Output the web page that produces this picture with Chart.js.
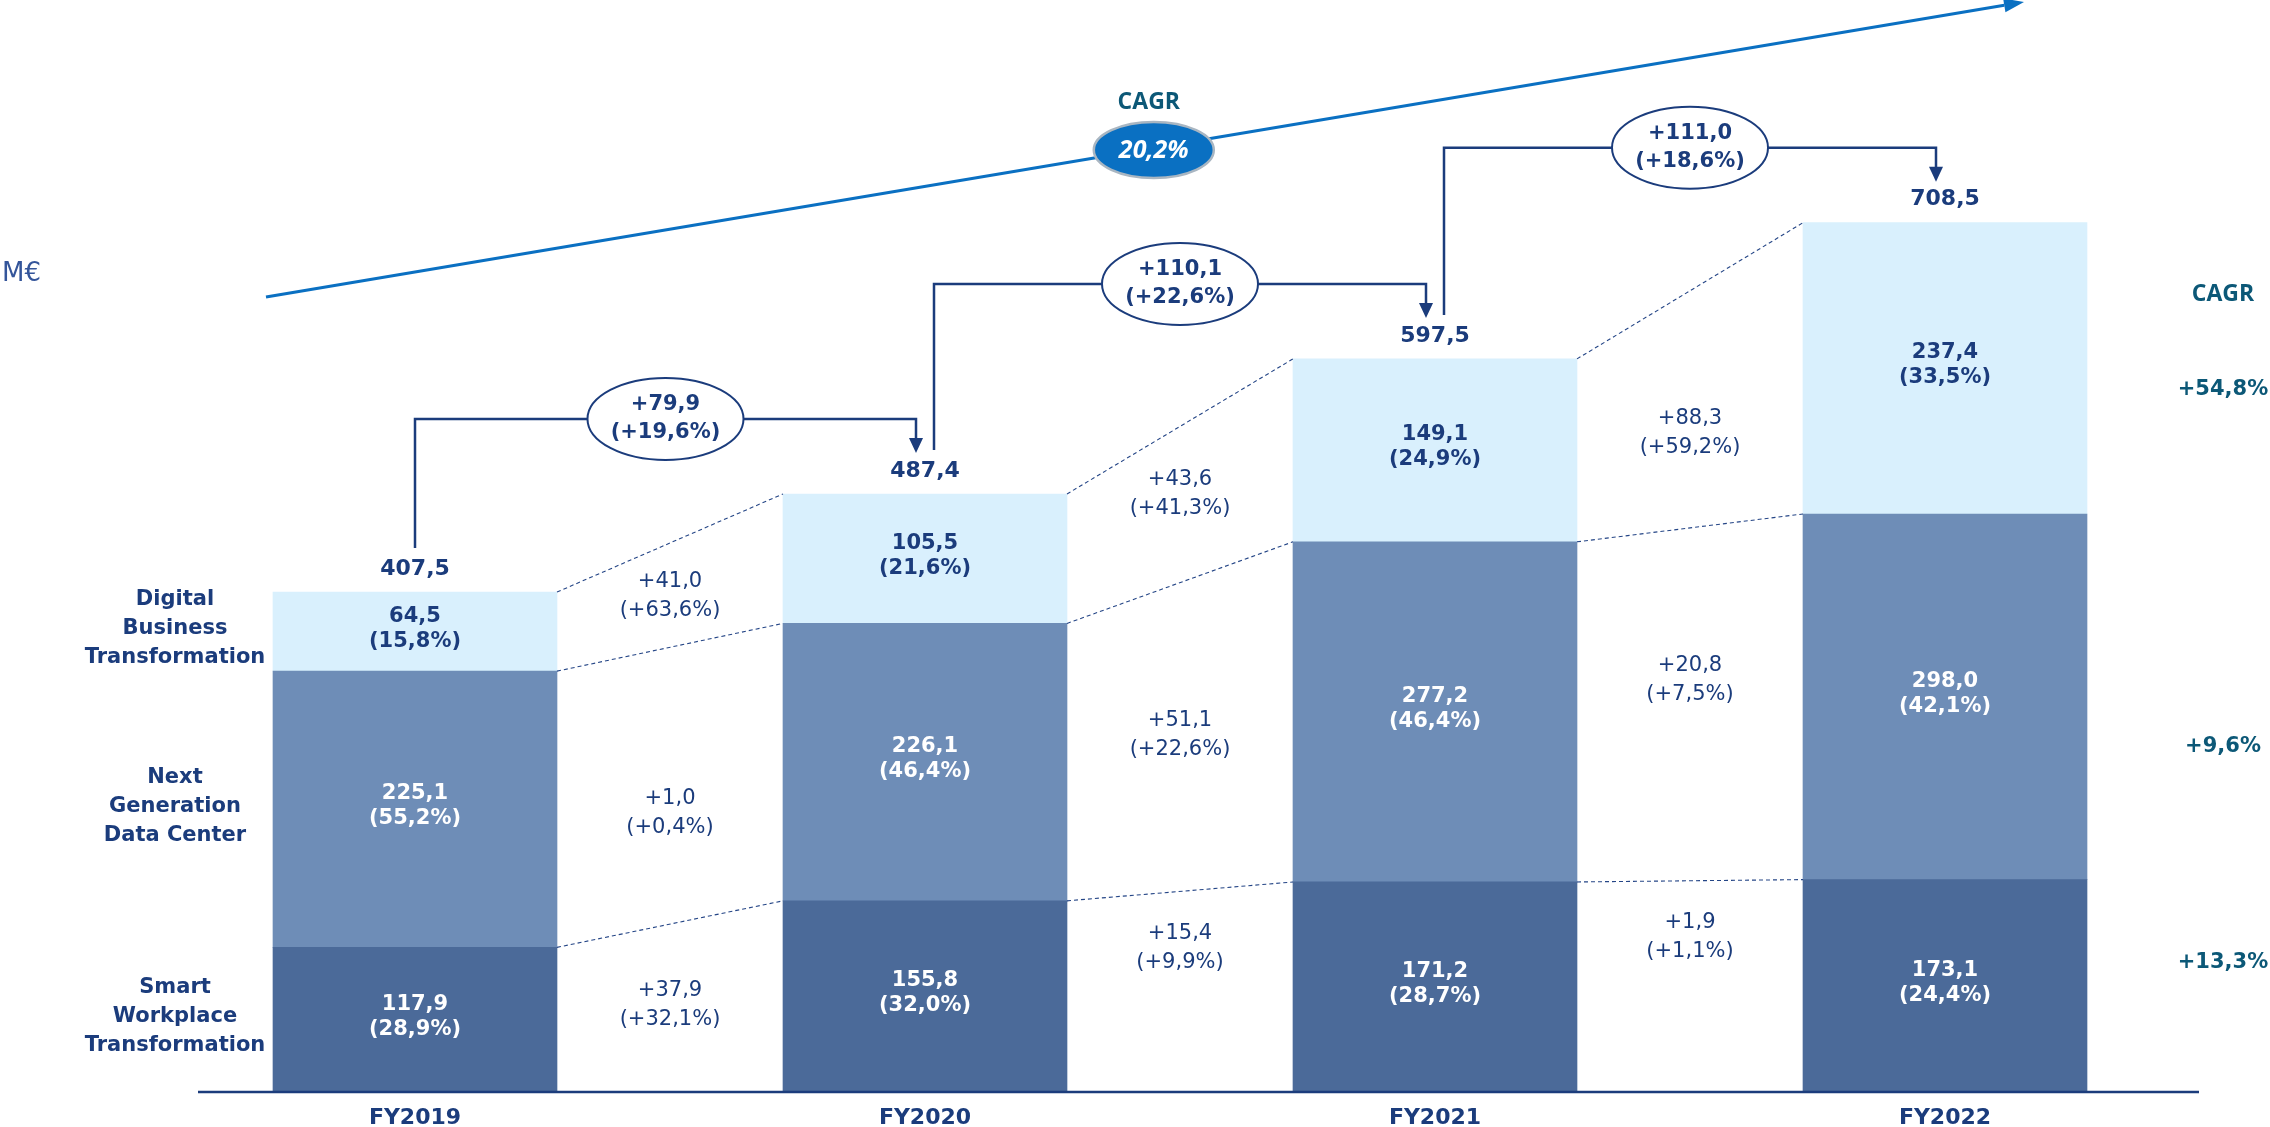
<!DOCTYPE html>
<html>
<head>
<meta charset="utf-8">
<script src="https://cdn.jsdelivr.net/npm/chart.js@4.4.0/dist/chart.umd.min.js"></script>
<style>
  html, body { margin: 0; padding: 0; background: #fff; }
  #wrap { width: 2270px; height: 1127px; }
</style>
</head>
<body>
<div id="wrap"><canvas id="revenueChart" width="2270" height="1127"></canvas></div>
<script>
// Revenue by business line (M€)
const years = ['FY2019', 'FY2020', 'FY2021', 'FY2022'];

const smartWorkplace = [117.9, 155.8, 171.2, 173.1];
const nextGenDataCenter = [225.1, 226.1, 277.2, 298.0];
const digitalBusiness = [64.5, 105.5, 149.1, 237.4];
const totals = [407.5, 487.4, 597.5, 708.5];

const smartWorkplaceShare = [28.9, 32.0, 28.7, 24.4];
const nextGenShare = [55.2, 46.4, 46.4, 42.1];
const digitalShare = [15.8, 21.6, 24.9, 33.5];

// year-on-year changes
const smartWorkplaceDelta = [37.9, 15.4, 1.9];
const smartWorkplaceDeltaPct = [32.1, 9.9, 1.1];
const nextGenDelta = [1.0, 51.1, 20.8];
const nextGenDeltaPct = [0.4, 22.6, 7.5];
const digitalDelta = [41.0, 43.6, 88.3];
const digitalDeltaPct = [63.6, 41.3, 59.2];

const totalDelta = [79.9, 110.1, 111.0];
const totalDeltaPct = [19.6, 22.6, 18.6];

// CAGR FY2019-FY2022
const segmentCagr = [13.3, 9.6, 54.8];
const totalCagr = 20.2;

const segmentNames = [
    ['Smart', 'Workplace', 'Transformation'],
    ['Next', 'Generation', 'Data Center'],
    ['Digital', 'Business', 'Transformation'],
];

const NAVY = '#1b3c7c';
const TEAL = '#0c5877';
const BLUE = '#0a70c2';
const WIDE = '"DejaVu Sans"';

const fmt = v => v.toFixed(1).replace('.', ',');
const plus = v => '+' + fmt(v);

const shares = [smartWorkplaceShare, nextGenShare, digitalShare];
const deltas = [smartWorkplaceDelta, nextGenDelta, digitalDelta];
const deltaPcts = [smartWorkplaceDeltaPct, nextGenDeltaPct, digitalDeltaPct];

// everything drawn around the stacked bars
const annotations = {
    id: 'annotations',
    afterDatasetsDraw(chart, args, opts) {
        const ctx = chart.ctx;
        const metas = [0, 1, 2].map(i => chart.getDatasetMeta(i).data);
        const top = metas[2];
        const half = el => el.width / 2;
        const mid = el => (el.y + el.base) / 2;

        ctx.save();
        ctx.textAlign = 'center';
        ctx.textBaseline = 'middle';

        // axis line
        const base = chart.scales.y.getPixelForValue(0);
        ctx.strokeStyle = NAVY;
        ctx.lineWidth = 2.5;
        ctx.beginPath();
        ctx.moveTo(opts.axisFrom, base);
        ctx.lineTo(opts.axisTo, base);
        ctx.stroke();

        // dashed connectors between neighbouring bars
        ctx.strokeStyle = '#244586';
        ctx.lineWidth = 1.1;
        ctx.setLineDash([4, 3]);
        for (let j = 0; j < years.length - 1; j++) {
            const levels = [[top[j].y, top[j + 1].y], [metas[2][j].base, metas[2][j + 1].base], [metas[1][j].base, metas[1][j + 1].base]];
            levels.forEach(([ya, yb]) => {
                ctx.beginPath();
                ctx.moveTo(top[j].x + half(top[j]), ya);
                ctx.lineTo(top[j + 1].x - half(top[j + 1]), yb);
                ctx.stroke();
            });
        }
        ctx.setLineDash([]);

        // values inside each segment
        metas.forEach((els, i) => {
            const data = chart.data.datasets[i].data;
            els.forEach((el, j) => {
                const y = mid(el) - 3;
                ctx.fillStyle = i === 2 ? NAVY : '#ffffff';
                ctx.font = `bold 21px ${WIDE}`;
                ctx.fillText(fmt(data[j]), el.x, y - 12.5);
                ctx.fillText('(' + fmt(shares[i][j]) + '%)', el.x, y + 12.5);
            });
        });

        // totals above the bars
        ctx.fillStyle = NAVY;
        ctx.font = `bold 22px ${WIDE}`;
        top.forEach((el, j) => ctx.fillText(fmt(totals[j]), el.x, el.y - 23));

        // segment changes between bars
        ctx.font = `21px ${WIDE}`;
        for (let j = 0; j < years.length - 1; j++) {
            const x = (top[j].x + half(top[j]) + top[j + 1].x - half(top[j + 1])) / 2;
            metas.forEach((els, i) => {
                const y = (mid(els[j]) + mid(els[j + 1])) / 2 + opts.deltaShift[i][j];
                ctx.fillText(plus(deltas[i][j]), x, y - 14.5);
                ctx.fillText('(' + plus(deltaPcts[i][j]) + '%)', x, y + 14.5);
            });
        }

        // segment names on the left, next to the first bar
        ctx.font = `bold 21px ${WIDE}`;
        metas.forEach((els, i) => {
            const y = mid(els[0]) - 3;
            segmentNames[i].forEach((line, k) => ctx.fillText(line, opts.namesX, y + (k - 1) * 29));
        });

        // total growth brackets
        ctx.strokeStyle = NAVY;
        ctx.fillStyle = NAVY;
        ctx.lineWidth = 2.5;
        for (let j = 0; j < years.length - 1; j++) {
            const a = top[j], b = top[j + 1];
            const x0 = a.x + (j === 0 ? 0 : 9);
            const x1 = b.x - 9;
            const hy = Math.min(a.y, b.y) - 75;
            const tipY = b.y - 41;
            ctx.beginPath();
            ctx.moveTo(x0, a.y - 44);
            ctx.lineTo(x0, hy);
            ctx.lineTo(x1, hy);
            ctx.lineTo(x1, tipY - 12);
            ctx.stroke();
            ctx.beginPath();
            ctx.moveTo(x1 - 7, tipY - 15);
            ctx.lineTo(x1 + 7, tipY - 15);
            ctx.lineTo(x1, tipY);
            ctx.closePath();
            ctx.fill();

            const cx = (x0 + x1) / 2;
            ctx.beginPath();
            ctx.ellipse(cx, hy, 78, 41, 0, 0, Math.PI * 2);
            ctx.fillStyle = '#ffffff';
            ctx.fill();
            ctx.lineWidth = 2;
            ctx.stroke();
            ctx.lineWidth = 2.5;
            ctx.fillStyle = NAVY;
            ctx.font = `bold 21px ${WIDE}`;
            ctx.fillText(plus(totalDelta[j]), cx, hy - 14);
            ctx.fillText('(' + plus(totalDeltaPct[j]) + '%)', cx, hy + 14);
        }

        // overall CAGR arrow
        const L = opts.cagrLine;
        const dx = L.x1 - L.x0, dy = L.y1 - L.y0;
        const len = Math.hypot(dx, dy);
        const ux = dx / len, uy = dy / len;
        const headLen = 20, headW = 7;
        ctx.strokeStyle = BLUE;
        ctx.fillStyle = BLUE;
        ctx.lineWidth = 3;
        ctx.beginPath();
        ctx.moveTo(L.x0, L.y0);
        ctx.lineTo(L.x1 - ux * headLen, L.y1 - uy * headLen);
        ctx.stroke();
        ctx.beginPath();
        ctx.moveTo(L.x1, L.y1);
        ctx.lineTo(L.x1 - ux * headLen - uy * headW, L.y1 - uy * headLen + ux * headW);
        ctx.lineTo(L.x1 - ux * headLen + uy * headW, L.y1 - uy * headLen - ux * headW);
        ctx.closePath();
        ctx.fill();

        const ex = L.x0 + dx * 0.505, ey = L.y0 + dy * 0.505 + 2;
        ctx.beginPath();
        ctx.ellipse(ex, ey, 60, 28, 0, 0, Math.PI * 2);
        ctx.fillStyle = BLUE;
        ctx.fill();
        ctx.strokeStyle = '#a9b6c2';
        ctx.lineWidth = 2.5;
        ctx.stroke();
        ctx.fillStyle = '#ffffff';
        ctx.font = 'italic bold 25px "Open Sans"';
        ctx.fillText(fmt(totalCagr) + '%', ex, ey + 1);
        ctx.fillStyle = TEAL;
        ctx.font = 'bold 23px "Open Sans"';
        ctx.fillText('CAGR', ex - 5, ey - 48);

        // unit
        ctx.fillStyle = '#34559a';
        ctx.font = `26px ${WIDE}`;
        ctx.textAlign = 'left';
        ctx.fillText('M€', 2, 274);

        // per-segment CAGR column
        ctx.textAlign = 'center';
        ctx.fillStyle = TEAL;
        ctx.font = 'bold 23px "Open Sans"';
        ctx.fillText('CAGR', opts.cagrX, 294);
        ctx.font = `bold 21px ${WIDE}`;
        metas.forEach((els, i) => {
            const el = els[els.length - 1];
            ctx.fillText(plus(segmentCagr[i]) + '%', opts.cagrX, mid(el) + opts.cagrShift[i]);
        });

        ctx.restore();
    }
};

const ctx = document.getElementById('revenueChart').getContext('2d');
new Chart(ctx, {
    type: 'bar',
    data: {
        labels: years,
        datasets: [
            { label: 'Smart Workplace Transformation', data: smartWorkplace, backgroundColor: '#4b6a99' },
            { label: 'Next Generation Data Center', data: nextGenDataCenter, backgroundColor: '#6e8db7' },
            { label: 'Digital Business Transformation', data: digitalBusiness, backgroundColor: '#d9f0fd' },
        ]
    },
    options: {
        responsive: false,
        devicePixelRatio: 1,
        animation: false,
        events: [],
        layout: { padding: { left: 160, right: 70, top: 0, bottom: 0 } },
        datasets: { bar: { barThickness: 284, borderWidth: 0 } },
        plugins: {
            legend: { display: false },
            tooltip: { enabled: false },
            annotations: {
                axisFrom: 198,
                axisTo: 2199,
                namesX: 175,
                cagrX: 2223,
                cagrLine: { x0: 266, y0: 297, x1: 2024, y1: 2 },
                deltaShift: [[-3, -44, -49], [27, -2, -24], [1, -10, 24]],
                cagrShift: [-23, 50, 21],
            }
        },
        scales: {
            x: {
                stacked: true,
                grid: { display: false, drawTicks: false },
                border: { display: false },
                ticks: { color: NAVY, padding: 13, font: { family: 'DejaVu Sans', weight: 'bold', size: 22 } },
                afterFit: scale => { scale.height = 35; }
            },
            y: {
                stacked: true,
                display: false,
                min: 0,
                max: 890
            }
        }
    },
    plugins: [annotations]
});
</script>
</body>
</html>
